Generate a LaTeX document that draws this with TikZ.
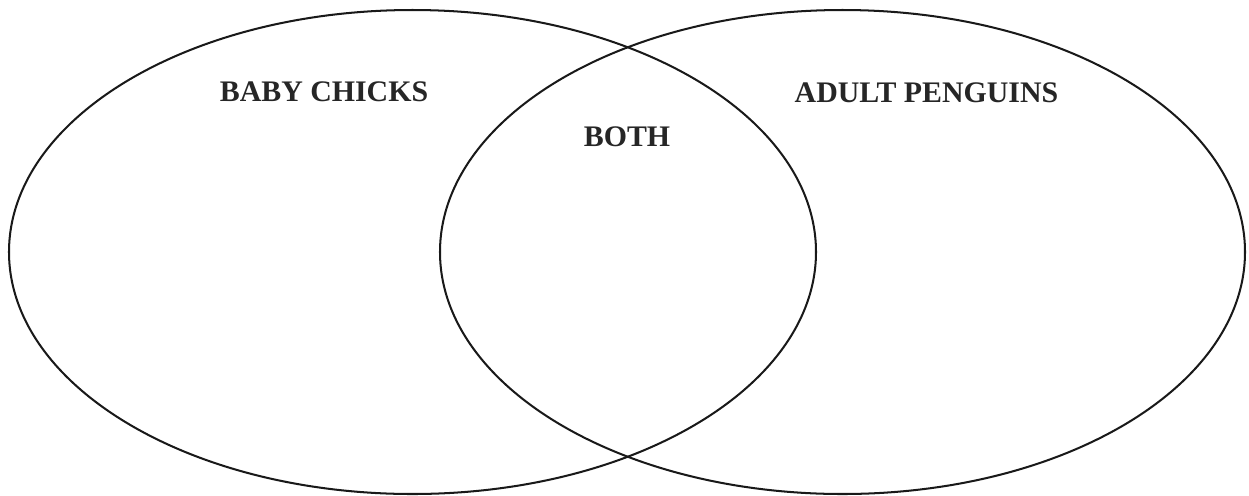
\documentclass[tikz,border=0pt]{standalone}
\usepackage{fontspec}
\setmainfont{Liberation Serif}
\usepackage{tikz}
\usetikzlibrary{positioning}

\begin{document}
\begin{tikzpicture}[
  x=0.02cm, y=-0.02cm,
  setline/.style={line width=1.15pt, draw=black!90},
  setlabel/.style={font=\fontsize{17}{19}\selectfont\bfseries, text=black!85, inner sep=0pt}
]
\useasboundingbox (0,0) rectangle (1249,495);

%--- Sets ---%
\draw[setline] (412.5,252) ellipse [x radius=403.5, y radius=242];
\draw[setline] (842.5,252) ellipse [x radius=402.5, y radius=242];

%--- Labels ---%
\node[setlabel] (chicks)   at (324,92)    {BABY CHICKS};
\node[setlabel] (both)     at (627,136.5) {BOTH};
\node[setlabel] (penguins) at (926.5,92.5) {ADULT PENGUINS};

\end{tikzpicture}
\end{document}
